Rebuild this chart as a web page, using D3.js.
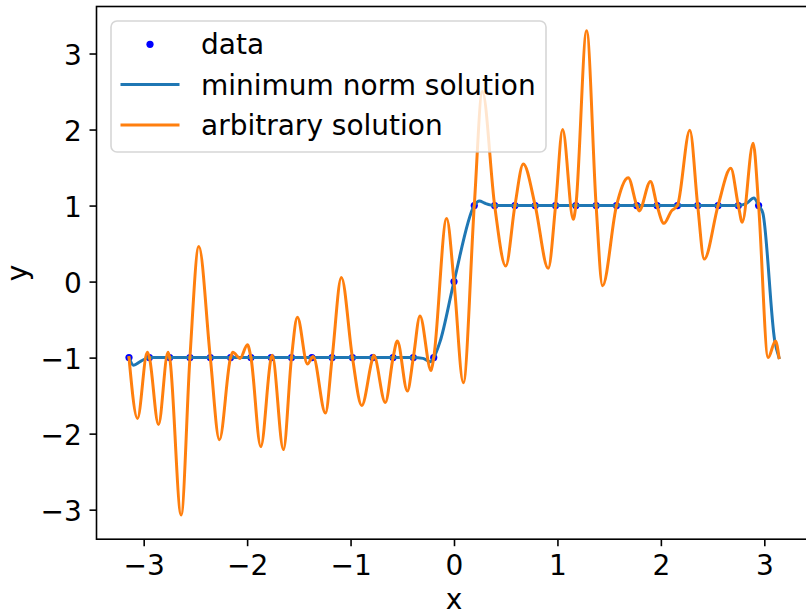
<!DOCTYPE html>
<html>
<head>
<meta charset="utf-8">
<script src="https://cdn.jsdelivr.net/npm/d3@7"></script>
<style>
  html, body { margin: 0; padding: 0; background: #ffffff; }
  svg { display: block; font-family: "DejaVu Sans", sans-serif; }
</style>
</head>
<body>
<svg id="chart" width="806" height="613"></svg>
<script>
// Sample points of the sign function on [-pi, pi)
const xData = [-3.142, -2.945, -2.749, -2.553, -2.356, -2.160, -1.963, -1.767,
               -1.571, -1.374, -1.178, -0.982, -0.785, -0.589, -0.393, -0.196,
                0.000,  0.196,  0.393,  0.589,  0.785,  0.982,  1.178,  1.374,
                1.571,  1.767,  1.963,  2.160,  2.356,  2.553,  2.749,  2.945];
const yData = [-1, -1, -1, -1, -1, -1, -1, -1, -1, -1, -1, -1, -1, -1, -1, -1,
                0,  1,  1,  1,  1,  1,  1,  1,  1,  1,  1,  1,  1,  1,  1,  1];

// Minimum norm interpolant (knots along the curve)
const minNormX = [-3.142, -3.098, -3.030, -2.945, -2.749, -2.553, -2.356, -2.160,
                  -1.963, -1.767, -1.571, -1.374, -1.178, -0.982, -0.785, -0.589,
                  -0.393, -0.300, -0.230, -0.196, -0.135, 0.000, 0.196, 0.245,
                   0.300, 0.393, 0.589, 0.785, 0.982, 1.178, 1.374, 1.571,
                   1.767, 1.963, 2.160, 2.356, 2.553, 2.749, 2.830, 2.900,
                   2.945, 2.986, 3.100, 3.142];
const minNormY = [-1.00, -1.10, -1.05, -1.00, -1.00, -1.00, -1.00, -1.00,
                  -1.00, -1.00, -1.00, -1.00, -1.00, -1.00, -1.00, -1.00,
                  -1.00, -1.01, -1.055, -1.00, -0.79, 0.00, 1.00, 1.06,
                   1.03, 1.00, 1.00, 1.00, 1.00, 1.00, 1.00, 1.00,
                   1.00, 1.00, 1.00, 1.00, 1.00, 1.00, 1.03, 1.10,
                   1.00, 0.90, -0.77, -1.00];

// Arbitrary interpolant (knots along the curve)
const arbitraryX = [-3.142, -3.060, -2.965, -2.945, -2.857, -2.765, -2.749, -2.638,
                    -2.553, -2.467, -2.356, -2.268, -2.160, -2.138, -2.068, -1.997,
                    -1.963, -1.868, -1.767, -1.758, -1.649, -1.571, -1.514, -1.417,
                    -1.374, -1.362, -1.243, -1.178, -1.089, -0.982, -0.892, -0.785,
                    -0.776, -0.664, -0.589, -0.548, -0.451, -0.393, -0.329, -0.222,
                    -0.196, -0.071, 0.000, 0.090, 0.196, 0.274, 0.393, 0.500,
                     0.589, 0.670, 0.785, 0.911, 0.982, 1.050, 1.153, 1.178,
                     1.282, 1.374, 1.436, 1.571, 1.684, 1.767, 1.790, 1.899,
                     1.963, 2.029, 2.103, 2.160, 2.280, 2.356, 2.419, 2.553,
                     2.676, 2.749, 2.787, 2.892, 2.945, 3.037, 3.108, 3.142];
const arbitraryY = [-1.00, -1.80, -0.93, -1.00, -1.88, -0.93, -1.00, -3.07,
                    -1.00,  0.46, -1.00, -2.08, -1.00, -0.93, -1.01, -0.83,
                    -1.00, -2.17, -1.00, -0.97, -2.21, -1.00, -0.47, -1.085,
                    -1.00, -0.985, -1.73, -1.00, 0.055, -1.00, -1.63, -1.00,
                    -0.97, -1.59, -1.00, -0.78, -1.44, -1.00, -0.454, -1.17,
                    -1.00,  0.83, 0.00, -1.33, 1.00, 2.50, 1.00, 0.204,
                     1.00,  1.546, 1.00, 0.174, 1.00, 2.00, 0.82, 1.00,
                     3.30,  1.00, -0.055, 1.00, 1.366, 1.00, 0.93, 1.318,
                     1.00,  0.766, 0.93, 1.00, 1.99, 1.00, 0.296, 1.00,
                     1.49,  1.00, 0.78, 1.82, 1.00, -1.00, -0.78, -1.00];

const xTicks = [-3, -2, -1, 0, 1, 2, 3];
const yTicks = [-3, -2, -1, 0, 1, 2, 3];
const tickLabel = v => (v < 0 ? "\u2212" + Math.abs(v) : String(v));

const seriesNames = ["data", "minimum norm solution", "arbitrary solution"];

// Plot frame
const frame = { left: 96.5, right: 811.5, top: 6.5, bottom: 539.2 };
const fontSize = 28;
const stroke = 1.6;
const dotRadius = 3.6;

const svg = d3.select("#chart");

// Data limits with a 5% margin on every side
function padded(values) {
  const [lo, hi] = d3.extent(values);
  const m = (hi - lo) * 0.05;
  return [lo - m, hi + m];
}
const x = d3.scaleLinear()
  .domain(padded([...xData, ...minNormX, ...arbitraryX]))
  .range([frame.left, frame.right]);
const y = d3.scaleLinear()
  .domain(padded([...yData, ...minNormY, ...arbitraryY]))
  .range([frame.bottom, frame.top]);

const plot = svg.append("g");
plot.append("clipPath").attr("id", "plot-clip")
  .append("rect")
  .attr("x", frame.left).attr("y", frame.top)
  .attr("width", frame.right - frame.left)
  .attr("height", frame.bottom - frame.top);

const marks = plot.append("g").attr("clip-path", "url(#plot-clip)");

// Data points
marks.append("g").selectAll("circle")
  .data(d3.zip(xData, yData))
  .join("circle")
  .attr("cx", d => x(d[0]))
  .attr("cy", d => y(d[1]))
  .attr("r", dotRadius)
  .attr("fill", "#0000ff");

const line = d3.line()
  .x(d => x(d[0]))
  .y(d => y(d[1]))
  .curve(d3.curveMonotoneX);

marks.append("path")
  .datum(d3.zip(minNormX, minNormY))
  .attr("d", line)
  .attr("fill", "none")
  .attr("stroke", "#1f77b4")
  .attr("stroke-width", 3)
  .attr("stroke-linejoin", "round")
  .attr("stroke-linecap", "square");

marks.append("path")
  .datum(d3.zip(arbitraryX, arbitraryY))
  .attr("d", line)
  .attr("fill", "none")
  .attr("stroke", "#ff7f0e")
  .attr("stroke-width", 3)
  .attr("stroke-linejoin", "round")
  .attr("stroke-linecap", "square");

// Axes
const xAxis = d3.axisBottom(x)
  .tickValues(xTicks)
  .tickFormat(tickLabel)
  .tickSize(7)
  .tickSizeOuter(0)
  .tickPadding(8.5);
const yAxis = d3.axisLeft(y)
  .tickValues(yTicks)
  .tickFormat(tickLabel)
  .tickSize(7)
  .tickSizeOuter(0)
  .tickPadding(7.8);

const gx = svg.append("g")
  .attr("transform", `translate(0,${frame.bottom})`)
  .call(xAxis);
const gy = svg.append("g")
  .attr("transform", `translate(${frame.left},0)`)
  .call(yAxis);

[gx, gy].forEach(g => {
  g.select(".domain").remove();
  g.selectAll(".tick line").attr("stroke", "#000").attr("stroke-width", stroke);
  g.selectAll(".tick text")
    .attr("fill", "#000")
    .attr("font-size", fontSize)
    .attr("font-family", "DejaVu Sans, sans-serif");
});
gy.selectAll(".tick text").attr("dy", "0.38em");

// Spines
svg.append("rect")
  .attr("x", frame.left).attr("y", frame.top)
  .attr("width", frame.right - frame.left)
  .attr("height", frame.bottom - frame.top)
  .attr("fill", "none")
  .attr("stroke", "#000")
  .attr("stroke-width", stroke);

// Axis labels
svg.append("text")
  .attr("x", (frame.left + frame.right) / 2)
  .attr("y", 608.5)
  .attr("text-anchor", "middle")
  .attr("font-size", fontSize)
  .text("x");
svg.append("text")
  .attr("transform", `translate(27,${(frame.top + frame.bottom) / 2}) rotate(-90)`)
  .attr("text-anchor", "middle")
  .attr("font-size", fontSize)
  .text("y");

// Legend
const legend = svg.append("g");
legend.append("rect")
  .attr("x", 111).attr("y", 21)
  .attr("width", 435).attr("height", 131)
  .attr("rx", 6).attr("ry", 6)
  .attr("fill", "#ffffff").attr("fill-opacity", 0.8)
  .attr("stroke", "#cccccc").attr("stroke-opacity", 0.8)
  .attr("stroke-width", stroke);

const rowY = [44.3, 84.5, 125];
legend.append("circle")
  .attr("cx", 150).attr("cy", rowY[0]).attr("r", dotRadius).attr("fill", "#0000ff");
[["#1f77b4", rowY[1]], ["#ff7f0e", rowY[2]]].forEach(([c, yy]) => {
  legend.append("line")
    .attr("x1", 122).attr("x2", 178)
    .attr("y1", yy).attr("y2", yy)
    .attr("stroke", c).attr("stroke-width", 3)
    .attr("stroke-linecap", "square");
});
legend.selectAll("text.label")
  .data(seriesNames)
  .join("text")
  .attr("class", "label")
  .attr("x", 201)
  .attr("y", (d, i) => rowY[i] + 10)
  .attr("font-size", fontSize)
  .attr("fill", "#000")
  .text(d => d);
</script>
</body>
</html>
